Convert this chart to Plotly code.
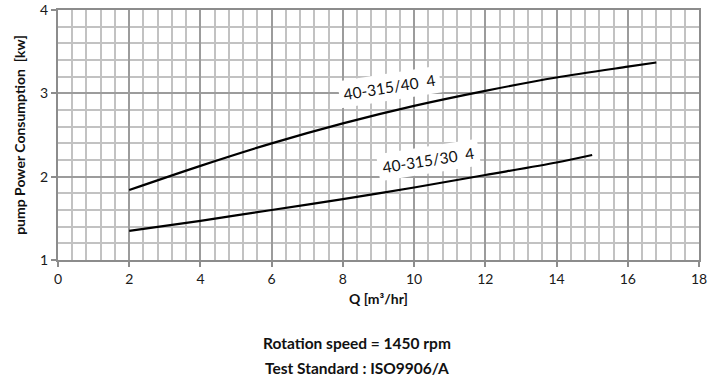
import plotly.graph_objects as go

# Data
q_40 = [2, 4, 6, 8, 10, 12, 14, 16, 16.8]
p_40 = [1.84, 2.13, 2.40, 2.64, 2.85, 3.03, 3.19, 3.32, 3.37]
q_30 = [2, 4, 6, 8, 10, 12, 14, 15]
p_30 = [1.35, 1.47, 1.60, 1.73, 1.87, 2.02, 2.17, 2.26]
label_40 = "40-315/40  4"
label_30 = "40-315/30  4"
x_ticks = list(range(0, 19, 2))
y_ticks = [1, 2, 3, 4]

FONT = "Lato, 'Open Sans', sans-serif"
MAJOR = "#9c9c9c"
MINOR = "#c2c2c2"
AXIS = "#8c8c8c"

fig = go.Figure()
for q, p in [(q_40, p_40), (q_30, p_30)]:
    fig.add_trace(go.Scatter(x=q, y=p, mode="lines",
                             line=dict(color="black", width=2.2, shape="spline", smoothing=0.8),
                             showlegend=False, hoverinfo="skip"))

fig.add_annotation(x=9.3, y=3.08, text=label_40, showarrow=False, textangle=-9,
                   bgcolor="white", borderpad=4, font=dict(size=15.5, color="#111", family=FONT))
fig.add_annotation(x=10.4, y=2.2, text=label_30, showarrow=False, textangle=-9,
                   bgcolor="white", borderpad=4, font=dict(size=15.5, color="#111", family=FONT))

fig.add_annotation(x=0.467, y=-0.333, xref="paper", yref="paper", yanchor="middle",
                   text="<b>Rotation speed = 1450 rpm</b>", showarrow=False,
                   font=dict(size=15.5, color="#111", family=FONT))
fig.add_annotation(x=0.467, y=-0.433, xref="paper", yref="paper", yanchor="middle",
                   text="<b>Test Standard : ISO9906/A</b>", showarrow=False,
                   font=dict(size=15.5, color="#111", family=FONT))

fig.update_layout(
    width=710, height=385,
    margin=dict(l=58, r=11, t=10, b=125, autoexpand=False),
    paper_bgcolor="white", plot_bgcolor="white",
    font=dict(family=FONT, size=14, color="#1a1a1a"),
    xaxis=dict(range=[0, 18], tickvals=x_ticks, showgrid=True, gridcolor=MAJOR, gridwidth=2,
               minor=dict(dtick=0.4, tick0=0, showgrid=True, gridcolor=MINOR, gridwidth=2),
               ticks="outside", ticklen=5, tickwidth=2, tickcolor=AXIS, showline=True, linecolor=AXIS,
               linewidth=2, zeroline=False, mirror=True, automargin=False,
               title=dict(text="<b>Q [m³/hr]</b>", font=dict(size=14, color="#111"), standoff=8)),
    yaxis=dict(range=[1, 4], tickvals=y_ticks, showgrid=True, gridcolor=MAJOR, gridwidth=2,
               minor=dict(dtick=0.2, tick0=0, showgrid=True, gridcolor=MINOR, gridwidth=2),
               ticks="outside", ticklen=5, tickwidth=2, tickcolor=AXIS, showline=True, linecolor=AXIS,
               linewidth=2, zeroline=False, mirror=True, automargin=False,
               title=dict(text="<b>pump Power Consumption  [kw]</b>", font=dict(size=14, color="#111"),
                          standoff=11)),
)

fig.write_html("out.html", config={"displayModeBar": False},
               post_script="document.body.style.margin='0';document.body.style.padding='0';")
